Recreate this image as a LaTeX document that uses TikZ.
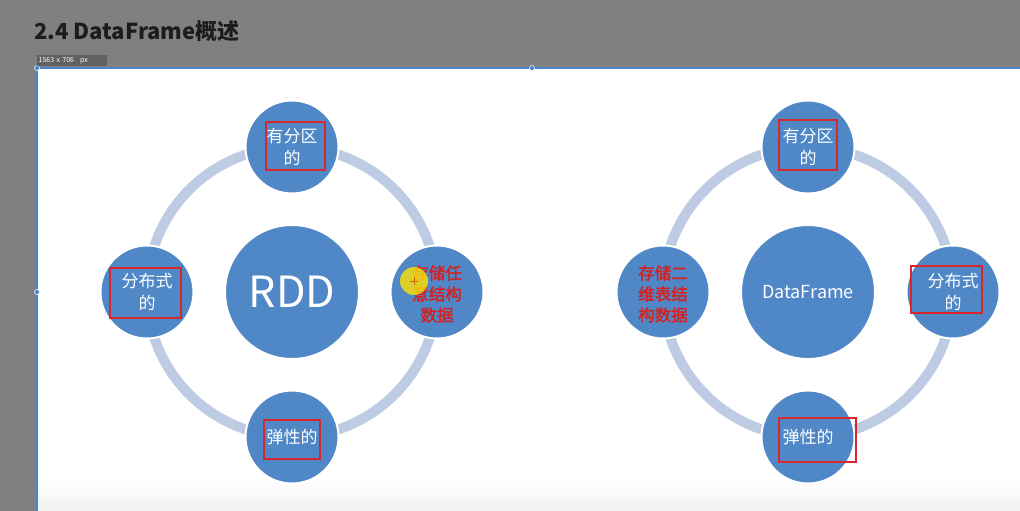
\documentclass[tikz,border=0pt]{standalone}
\usepackage{fontspec}
\setmainfont{Noto Sans CJK SC}
\newfontfamily\cjkb{Noto Sans CJK SC}[FakeBold=2]
\definecolor{bggray}{HTML}{808080}
\definecolor{selblue}{HTML}{4A86D0}
\definecolor{circblue}{HTML}{4F87C7}
\definecolor{ringblue}{HTML}{BDCCE2}
\definecolor{boxred}{HTML}{D8262C}
\definecolor{txtred}{HTML}{D42222}
\definecolor{titlecol}{HTML}{1C1C1C}
\tikzset{
  ring/.style={draw=ringblue, line width=10pt},
  smallc/.style={circle, fill=circblue, draw=white, line width=2pt, minimum size=93pt, inner sep=0pt,
    text=white, align=center, font=\fontsize{17}{22}\selectfont},
  bigc/.style={circle, fill=circblue, draw=white, line width=2pt, minimum size=134pt, inner sep=0pt, text=white},
  redtxt/.style={text=txtred, font=\cjkb\fontsize{16.5}{21}\selectfont},
  redbox/.style={draw=boxred, line width=1.3pt, rectangle, inner sep=0pt},
  handle/.style={circle, fill=selblue, draw=white, line width=0.5pt, minimum size=5pt, inner sep=0pt}
}
\begin{document}
\begin{tikzpicture}[x=1pt,y=-1pt]
\useasboundingbox (0,0) rectangle (1020,511);
% background
\fill[bggray] (0,0) rectangle (1020,511);
\fill[white] (37,68) rectangle (1020,511);
\shade[top color=white, bottom color=black!5] (38,478) rectangle (1020,511);
\draw[selblue, line width=1.5pt] (37,511) -- (37,68) -- (1020,68);
\node[handle] (h1) at (37,68) {};
\node[handle] (h2) at (532,68) {};
\node[handle] (h3) at (37,292) {};
% title
\node[anchor=base west, inner sep=0pt, text=titlecol, font=\bfseries\fontsize{22}{26}\selectfont] (title) at (34,40) {2.4 DataFrame概述};
\node[anchor=north west, fill=black!62, text=white!85, inner sep=1.5pt, minimum height=11pt, text width=67pt,
  font=\fontsize{7}{8}\selectfont] (sz) at (37,55) {1563 x 706\hspace{6pt}px};
% ---------- left diagram ----------
\coordinate (Lc) at (292,292);
\draw[ring] (Lc) circle (145);
\node[bigc, font=\fontsize{43}{47}\selectfont] (rdd) at (Lc) {RDD};
\node[smallc] (Lt) at (292,147) {有分区\\的};
\node[smallc] (Ll) at (147,292) {分布式\\的};
\node[smallc] (Lb) at (292,437) {弹性的};
\node[smallc] (Lr) at (437,292) {};
\node[redtxt, align=center] (Lrt) at (437,294) {存储任\\意结构\\数据};
\fill[yellow!85!orange, opacity=0.8] (414,281) circle (14);
\draw[orange!80!black, line width=0.6pt] (410,281) -- (418,281) (414,277) -- (414,285);
\node[redbox, minimum width=59pt, minimum height=48pt] (b1) at (295.5,146) {};
\node[redbox, minimum width=71pt, minimum height=50pt] (b2) at (145.5,293) {};
\node[redbox, minimum width=56pt, minimum height=39pt] (b3) at (292,439.5) {};
% ---------- right diagram ----------
\coordinate (Rc) at (808,292);
\draw[ring] (Rc) circle (145);
\node[bigc, font=\fontsize{18}{22}\selectfont] (df) at (Rc) {DataFrame};
\node[smallc] (Rt) at (808,147) {有分区\\的};
\node[smallc] (Rr) at (953,292) {分布式\\的};
\node[smallc] (Rb) at (808,437) {弹性的};
\node[smallc] (Rl) at (663,292) {};
\node[redtxt, align=center] (Rlt) at (663,294) {存储二\\维表结\\构数据};
\node[redbox, minimum width=58pt, minimum height=50pt] (b4) at (808,145) {};
\node[redbox, minimum width=71pt, minimum height=47pt] (b5) at (946.5,289.5) {};
\node[redbox, minimum width=77pt, minimum height=44pt] (b6) at (817.5,440) {};
\end{tikzpicture}
\end{document}
